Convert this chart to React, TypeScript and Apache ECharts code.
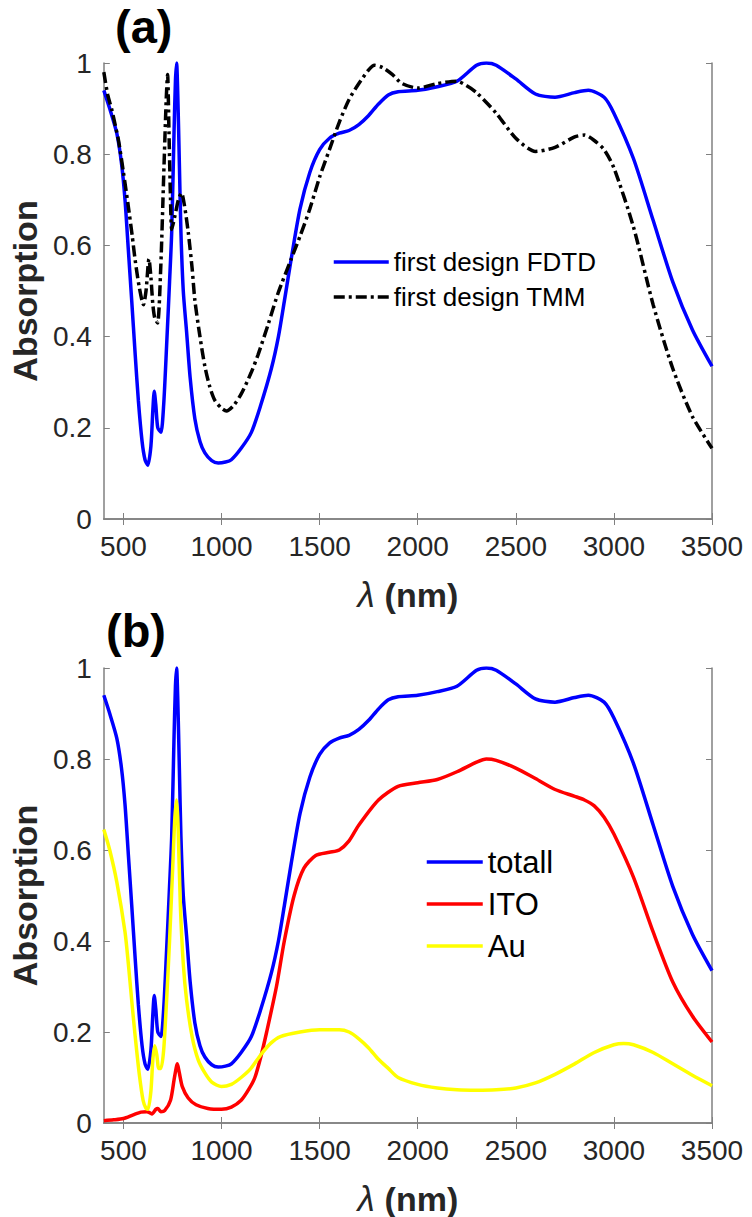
import React, { useEffect, useRef } from "react";
import * as echarts from "echarts";

const xTicks = [500, 1000, 1500, 2000, 2500, 3000, 3500];

// first design FDTD (also "totall" in panel b)
const fdtdLambda = [400, 430, 466, 490, 508, 525, 542, 560, 576, 595, 610, 624, 640, 650, 657, 665, 675, 691, 705, 720, 735, 746, 758, 765, 771, 777, 785, 793, 805, 822, 840, 864, 890, 915, 950, 983, 1020, 1050, 1100, 1152, 1200, 1254, 1290, 1321, 1355, 1400, 1450, 1500, 1550, 1600, 1650, 1700, 1750, 1800, 1850, 1900, 2000, 2100, 2200, 2300, 2350, 2400, 2500, 2600, 2700, 2800, 2870, 2950, 3000, 3100, 3200, 3300, 3400, 3500];
const fdtdAbs = [0.94, 0.9, 0.846, 0.78, 0.7, 0.59, 0.48, 0.36, 0.26, 0.17, 0.13, 0.118, 0.16, 0.24, 0.28, 0.25, 0.2, 0.19, 0.25, 0.38, 0.52, 0.63, 0.85, 0.96, 1.0, 0.93, 0.78, 0.63, 0.5, 0.41, 0.31, 0.22, 0.17, 0.145, 0.128, 0.123, 0.125, 0.13, 0.155, 0.19, 0.25, 0.33, 0.4, 0.48, 0.57, 0.68, 0.76, 0.81, 0.835, 0.846, 0.852, 0.865, 0.885, 0.91, 0.93, 0.937, 0.94, 0.948, 0.96, 0.995, 1.0, 0.995, 0.965, 0.932, 0.925, 0.935, 0.94, 0.925, 0.89, 0.79, 0.655, 0.52, 0.415, 0.335];

// first design TMM
const tmmLambda = [400, 420, 441, 460, 475, 500, 525, 545, 559, 580, 602, 615, 630, 640, 650, 660, 674, 690, 705, 718, 725, 732, 740, 746, 760, 780, 796, 810, 830, 850, 864, 890, 915, 940, 966, 1000, 1025, 1060, 1101, 1150, 1186, 1240, 1288, 1355, 1400, 1450, 1500, 1550, 1600, 1650, 1700, 1750, 1780, 1820, 1870, 1920, 2000, 2100, 2200, 2250, 2300, 2400, 2500, 2600, 2700, 2800, 2850, 2900, 2950, 3000, 3100, 3200, 3300, 3400, 3500];
const tmmAbs = [0.98, 0.93, 0.897, 0.86, 0.83, 0.76, 0.685, 0.62, 0.57, 0.51, 0.47, 0.5, 0.57, 0.53, 0.47, 0.44, 0.43, 0.55, 0.75, 0.92, 0.975, 0.85, 0.7, 0.635, 0.66, 0.7, 0.715, 0.69, 0.63, 0.55, 0.48, 0.4, 0.335, 0.29, 0.26, 0.243, 0.237, 0.248, 0.275, 0.32, 0.36, 0.43, 0.495, 0.57, 0.62, 0.68, 0.75, 0.81, 0.87, 0.92, 0.955, 0.985, 0.995, 0.99, 0.975, 0.955, 0.945, 0.955, 0.96, 0.95, 0.935, 0.89, 0.835, 0.806, 0.815, 0.838, 0.842, 0.83, 0.81, 0.77, 0.64, 0.47, 0.33, 0.225, 0.155];

// ITO
const itoLambda = [400, 450, 500, 550, 590, 620, 645, 665, 675, 690, 710, 740, 760, 775, 785, 800, 830, 870, 930, 1000, 1050, 1100, 1140, 1170, 1200, 1230, 1280, 1320, 1370, 1420, 1480, 1550, 1600, 1650, 1700, 1800, 1900, 2000, 2100, 2200, 2300, 2350, 2400, 2500, 2600, 2700, 2800, 2850, 2900, 2950, 3000, 3100, 3200, 3300, 3400, 3500];
const itoAbs = [0.005, 0.007, 0.01, 0.018, 0.024, 0.025, 0.02, 0.03, 0.032, 0.025, 0.027, 0.05, 0.1, 0.13, 0.11, 0.08, 0.055, 0.04, 0.032, 0.03, 0.035, 0.05, 0.075, 0.1, 0.145, 0.2, 0.3, 0.4, 0.5, 0.56, 0.588, 0.595, 0.6, 0.62, 0.655, 0.71, 0.74, 0.748, 0.755, 0.772, 0.793, 0.8, 0.797, 0.78, 0.757, 0.733, 0.718, 0.71, 0.697, 0.672, 0.635, 0.54, 0.42, 0.31, 0.235, 0.178];

// Au
const auLambda = [400, 430, 466, 508, 525, 542, 560, 580, 600, 615, 625, 640, 650, 660, 670, 680, 691, 705, 720, 735, 750, 762, 771, 778, 790, 805, 822, 850, 880, 915, 950, 1000, 1050, 1100, 1150, 1200, 1250, 1300, 1400, 1500, 1600, 1650, 1700, 1750, 1800, 1850, 1900, 2000, 2100, 2200, 2300, 2400, 2500, 2600, 2700, 2800, 2900, 3000, 3050, 3100, 3200, 3300, 3400, 3500];
const auAbs = [0.645, 0.6, 0.53, 0.42, 0.35, 0.27, 0.19, 0.11, 0.05, 0.032, 0.03, 0.07, 0.14, 0.17, 0.15, 0.12, 0.12, 0.16, 0.27, 0.4, 0.55, 0.67, 0.71, 0.66, 0.48, 0.35, 0.27, 0.19, 0.14, 0.11, 0.09, 0.08, 0.085, 0.1, 0.12, 0.15, 0.175, 0.19, 0.2, 0.205, 0.205, 0.2, 0.185, 0.165, 0.14, 0.12, 0.1, 0.085, 0.077, 0.073, 0.072, 0.073, 0.077, 0.088, 0.107, 0.13, 0.155, 0.172, 0.175, 0.172, 0.155, 0.13, 0.105, 0.082];

const zip = (xs: number[], ys: number[]) => xs.map((x, i) => [x, ys[i]]);

const AX = "#808080";
const TXT = "#262626";
const SANS = "Liberation Sans";

function axesFor(grid: number) {
  const xBottom = {
    type: "value",
    gridIndex: grid,
    min: 400,
    max: 3500,
    position: "bottom",
    axisLine: { show: true, lineStyle: { color: AX, width: 1.5 } },
    axisTick: { show: true, inside: true, length: 6, customValues: xTicks, lineStyle: { color: AX } },
    axisLabel: { show: true, customValues: xTicks, formatter: (v: number) => String(v), fontSize: 28, color: TXT, fontFamily: SANS, margin: 13 },
    splitLine: { show: false },
    name: "{i|λ }{b|(nm)}",
    nameLocation: "middle",
    nameGap: 58,
    nameTextStyle: {
      rich: {
        i: { fontStyle: "italic", fontSize: 35, color: TXT, fontFamily: SANS },
        b: { fontWeight: "bold", fontSize: 34, color: TXT, fontFamily: SANS },
      },
    },
  };
  const xTop = {
    type: "value",
    gridIndex: grid,
    min: 400,
    max: 3500,
    position: "top",
    axisLine: { show: true, lineStyle: { color: AX, width: 1.5 } },
    axisTick: { show: true, inside: true, length: 6, customValues: xTicks, lineStyle: { color: AX } },
    axisLabel: { show: false },
    splitLine: { show: false },
  };
  const yLeft = {
    type: "value",
    gridIndex: grid,
    min: 0,
    max: 1,
    interval: 0.2,
    position: "left",
    axisLine: { show: true, lineStyle: { color: AX, width: 1.5 } },
    axisTick: { show: true, inside: true, length: 6, lineStyle: { color: AX } },
    axisLabel: { show: true, fontSize: 28, color: TXT, fontFamily: SANS, margin: 12 },
    splitLine: { show: false },
    name: "Absorption",
    nameLocation: "middle",
    nameGap: 60,
    nameTextStyle: { fontWeight: "bold", fontSize: 34, color: TXT, fontFamily: SANS },
  };
  const yRight = {
    type: "value",
    gridIndex: grid,
    min: 0,
    max: 1,
    interval: 0.2,
    position: "right",
    axisLine: { show: true, lineStyle: { color: AX, width: 1.5 } },
    axisTick: { show: true, inside: true, length: 6, lineStyle: { color: AX } },
    axisLabel: { show: false },
    splitLine: { show: false },
  };
  return { x: [xBottom, xTop], y: [yLeft, yRight] };
}

export default function App() {
  const ref = useRef<HTMLDivElement>(null);
  useEffect(() => {
    document.body.style.margin = "0";
    const chart = echarts.init(ref.current!, null, { renderer: "svg" });
    const a = axesFor(0);
    const b = axesFor(1);
    const line = (name: string, data: number[][], color: string, xi: number, yi: number, extra: any = {}) => ({
      name,
      type: "line",
      xAxisIndex: xi,
      yAxisIndex: yi,
      data,
      symbol: "none",
      smooth: 0.25,
      lineStyle: { color, width: 3.5, ...extra },
      itemStyle: { color },
      z: 3,
    });
    const option: any = {
      animation: false,
      backgroundColor: "#ffffff",
      grid: [
        { left: 102, top: 63, width: 610, height: 456, containLabel: false },
        { left: 103, top: 668, width: 609, height: 456, containLabel: false },
      ],
      xAxis: [...a.x, ...b.x],
      yAxis: [...a.y, ...b.y],
      legend: [
        {
          orient: "vertical",
          left: 327,
          top: 244,
          itemWidth: 55,
          itemHeight: 14,
          itemGap: 9,
          itemStyle: { opacity: 0 },
          lineStyle: { width: 3.5 },
          textStyle: { fontSize: 26, color: "#000", fontFamily: SANS, lineHeight: 26 },
          data: ["first design FDTD", "first design TMM"],
        },
        {
          orient: "vertical",
          left: 420,
          top: 841,
          itemWidth: 56,
          itemHeight: 14,
          itemGap: 10,
          itemStyle: { opacity: 0 },
          lineStyle: { width: 3.5 },
          textStyle: { fontSize: 31, color: "#000", fontFamily: SANS, lineHeight: 32 },
          data: ["totall", "ITO", "Au"],
        },
      ],
      graphic: [
        { type: "text", left: 115, top: 3, style: { text: "(a)", fontSize: 47, fontWeight: "bold", fill: "#000", fontFamily: SANS } },
        { type: "text", left: 106, top: 607, style: { text: "(b)", fontSize: 47, fontWeight: "bold", fill: "#000", fontFamily: SANS } },
      ],
      series: [
        line("first design FDTD", zip(fdtdLambda, fdtdAbs), "#0000ff", 0, 0),
        line("first design TMM", zip(tmmLambda, tmmAbs), "#000000", 0, 0, { type: [11, 4, 3, 4] }),
        line("totall", zip(fdtdLambda, fdtdAbs), "#0000ff", 2, 2),
        line("ITO", zip(itoLambda, itoAbs), "#ff0000", 2, 2),
        line("Au", zip(auLambda, auAbs), "#ffff00", 2, 2),
      ],
    };
    chart.setOption(option);
    return () => chart.dispose();
  }, []);
  return <div ref={ref} style={{ width: 752, height: 1217 }} />;
}
